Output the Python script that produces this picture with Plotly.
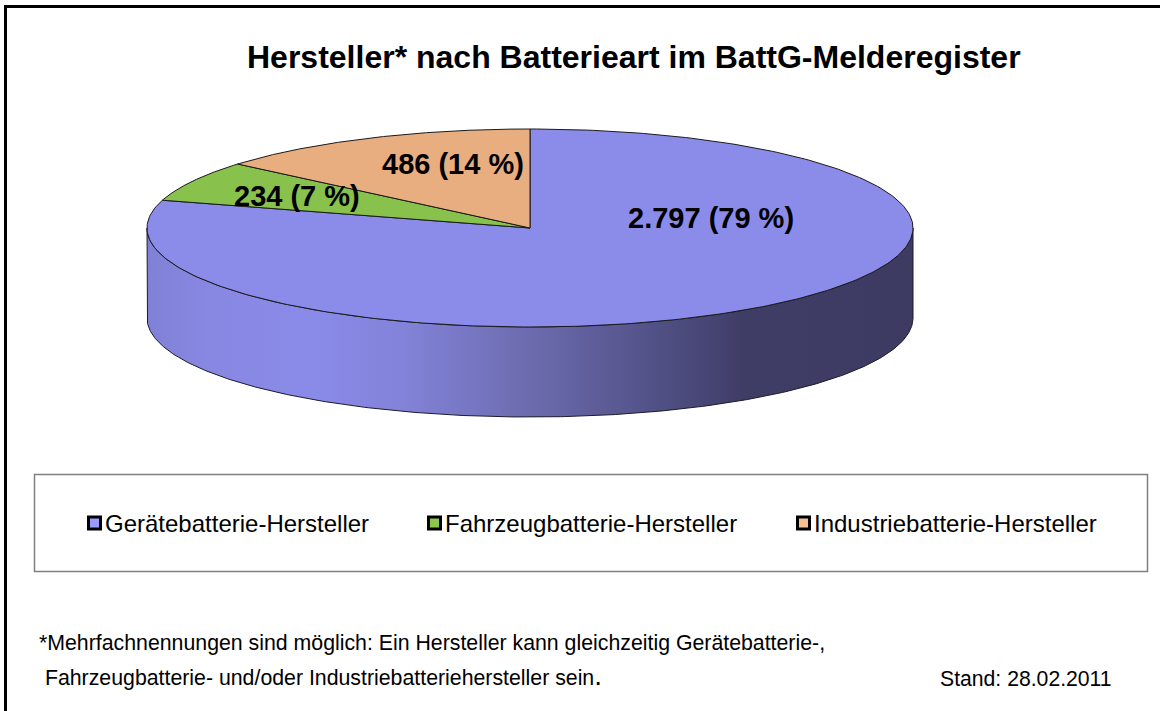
import numpy as np
import plotly.graph_objects as go

# --- data ---
categories = ["Gerätebatterie-Hersteller", "Fahrzeugbatterie-Hersteller", "Industriebatterie-Hersteller"]
values = [2797, 234, 486]
value_labels = ["2.797 (79 %)", "234 (7 %)", "486 (14 %)"]
top_colors = ["#8B8CEA", "#88C14B", "#E8AE80"]
legend_colors = ["#9999FF", "#8CC850", "#F8C090"]
title = "Hersteller* nach Batterieart im BattG-Melderegister"
foot1 = "*Mehrfachnennungen sind möglich: Ein Hersteller kann gleichzeitig Gerätebatterie-,"
foot2 = " Fahrzeugbatterie- und/oder Industriebatteriehersteller sein<span style='font-size:28px'>.</span>"
stand = "Stand: 28.02.2011"

# --- pie geometry (pixel layout of the drawing area) ---
CX, CY, RX, RY, DEPTH = 530, 228, 383, 99, 90
FONT = "Liberation Sans, Arial, sans-serif"

def ell(t):
    return CX + RX * np.sin(t), CY - RY * np.cos(t)

fractions = np.array(values) / sum(values)
edges = 2 * np.pi * np.concatenate([[0], np.cumsum(fractions)])

fig = go.Figure()

# side wall: the front half of the ellipse extruded downwards
t = np.linspace(np.pi / 2, 3 * np.pi / 2, 300)
x, y = ell(t)
wall_x = np.concatenate([x, x[::-1], x[:1]])
wall_y = np.concatenate([y, y[::-1] + DEPTH, y[:1]])
fig.add_trace(go.Scatter(
    x=wall_x, y=wall_y, mode="lines", fill="toself",
    line=dict(color="#1a1a2a", width=1),
    fillgradient=dict(type="horizontal", colorscale=[
        [0.00, "#8080D6"], [0.08, "#8888E3"], [0.22, "#8A8AE8"], [0.33, "#8383DA"],
        [0.50, "#6C6BAE"], [0.65, "#54538A"], [0.78, "#3F3D66"], [1.00, "#3D3B62"],
    ]),
    hoverinfo="skip", showlegend=False,
))

# top slices, drawn clockwise from 12 o'clock
for i, cat in enumerate(categories):
    t = np.linspace(edges[i], edges[i + 1], 300)
    x, y = ell(t)
    fig.add_trace(go.Scatter(
        x=np.concatenate([[CX], x, [CX]]), y=np.concatenate([[CY], y, [CY]]),
        mode="lines", fill="toself", fillcolor=top_colors[i],
        line=dict(color="#1a1a1a", width=1), name=cat, hoverinfo="name", showlegend=False,
    ))

# --- frames, legend keys ---
shapes = [
    dict(type="rect", x0=5.5, y0=6.5, x1=1175, y1=725, line=dict(color="black", width=3), layer="above"),
    dict(type="rect", x0=34.5, y0=474.5, x1=1147.5, y1=571.5, line=dict(color="#808080", width=1.5), layer="below"),
]
legend_x = [94.5, 434.5, 803.5]
for kx, c in zip(legend_x, legend_colors):
    shapes.append(dict(type="rect", x0=kx - 6, y0=517, x1=kx + 6, y1=529,
                       fillcolor=c, line=dict(color="black", width=3)))

def text(x, y, s, size, anchor="left", bold=False):
    return dict(x=x, y=y, text=f"<b>{s}</b>" if bold else s, showarrow=False, xanchor=anchor, yanchor="middle",
                xref="x", yref="y", font=dict(family=FONT, size=size, color="black"))

annotations = [
    text(633.5, 57, title, 32, "center", True),
    text(711, 218, value_labels[0], 29, "center", True),
    text(297, 196, value_labels[1], 29, "center", True),
    text(453, 164, value_labels[2], 29, "center", True),
    text(37, 643, foot1, 21.3),
    text(36.5, 675, foot2, 21.3),
    text(937.5, 678, stand, 21.2),
]
for kx, c in zip(legend_x, categories):
    annotations.append(text(kx + 8, 523, c, 24))

fig.update_layout(
    width=1160, height=711, margin=dict(l=0, r=0, t=0, b=0),
    paper_bgcolor="white", plot_bgcolor="white",
    xaxis=dict(range=[0, 1160], visible=False, fixedrange=True),
    yaxis=dict(range=[711, 0], visible=False, fixedrange=True),
    shapes=shapes, annotations=annotations, showlegend=False,
)
fig.write_html("out.html", config=dict(displayModeBar=False),
               post_script="document.body.style.margin='0';document.body.style.overflow='hidden';")
